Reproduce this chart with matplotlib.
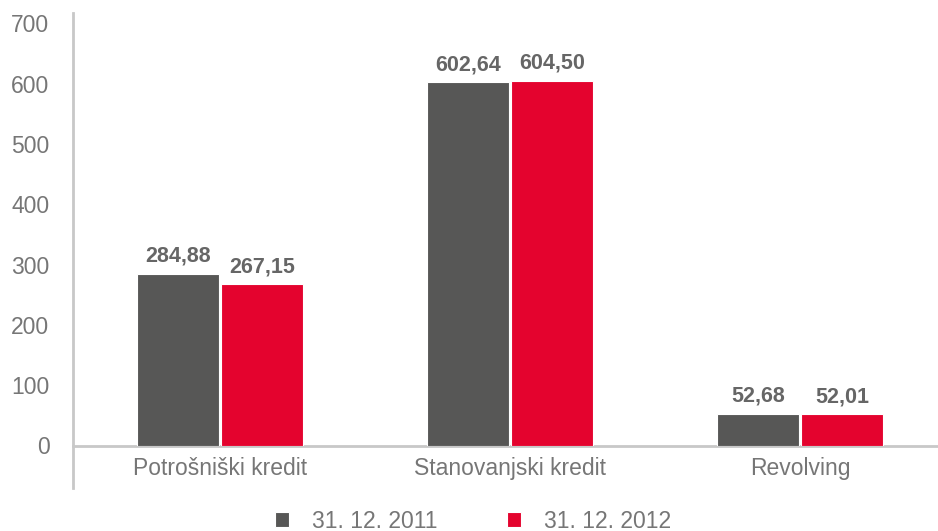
import numpy as np
import matplotlib.pyplot as plt

categories = ['Potrošniški kredit', 'Stanovanjski kredit', 'Revolving']
series_names = ['31. 12. 2011', '31. 12. 2012']
values_2011 = [284.88, 602.64, 52.68]
values_2012 = [267.15, 604.50, 52.01]
yticks = [0, 100, 200, 300, 400, 500, 600, 700]

gray = '#575756'
red = '#e4032e'
text_col = '#767676'
label_col = '#666666'
line_col = '#c8c8c8'

plt.rcParams['font.family'] = ['Liberation Sans', 'DejaVu Sans']

fig = plt.figure(figsize=(9.38, 5.31), dpi=100)
ax = fig.add_axes([73 / 938, 1 - 445.5 / 531, 865 / 938, 432.5 / 531])

x = np.arange(len(categories))
w = 0.283
off = 0.145
b1 = ax.bar(x - off, values_2011, w, color=gray, edgecolor='white', linewidth=0.8,
            label=series_names[0], zorder=3)
b2 = ax.bar(x + off, values_2012, w, color=red, edgecolor='white', linewidth=0.8,
            label=series_names[1], zorder=3)

for bars in (b1, b2):
    for rect in bars:
        v = rect.get_height()
        ax.annotate(f'{v:.2f}'.replace('.', ','),
                    (rect.get_x() + rect.get_width() / 2, v),
                    xytext=(0, 5), textcoords='offset points',
                    ha='center', va='bottom', fontsize=15.5, fontweight='bold',
                    color=label_col)

ax.set_xlim(-0.507, 2.476)
ax.set_ylim(0, 717)
ax.set_yticks(yticks)
ax.set_yticklabels([str(t) for t in yticks], fontsize=16.5, color=text_col)
ax.set_xticks(x)
ax.set_xticklabels(categories, fontsize=16.5, color=text_col)
ax.tick_params(axis='y', length=0, pad=17)
ax.tick_params(axis='x', length=0, pad=8)

for s in ['top', 'right', 'left']:
    ax.spines[s].set_visible(False)
ax.spines['bottom'].set_color(line_col)
ax.spines['bottom'].set_linewidth(2)
ax.plot([0, 0], [-0.098, 1], transform=ax.transAxes, color=line_col,
        linewidth=2, clip_on=False, zorder=4)

leg = ax.legend(loc='center', bbox_to_anchor=(473 / 938, 10 / 531),
                bbox_transform=fig.transFigure, ncol=2, frameon=False,
                handlelength=0.62, handleheight=0.62, columnspacing=3.0,
                handletextpad=1.0, borderpad=0, prop={'size': 16.5})
for t in leg.get_texts():
    t.set_color(text_col)

fig.savefig('out.png', dpi=100)
